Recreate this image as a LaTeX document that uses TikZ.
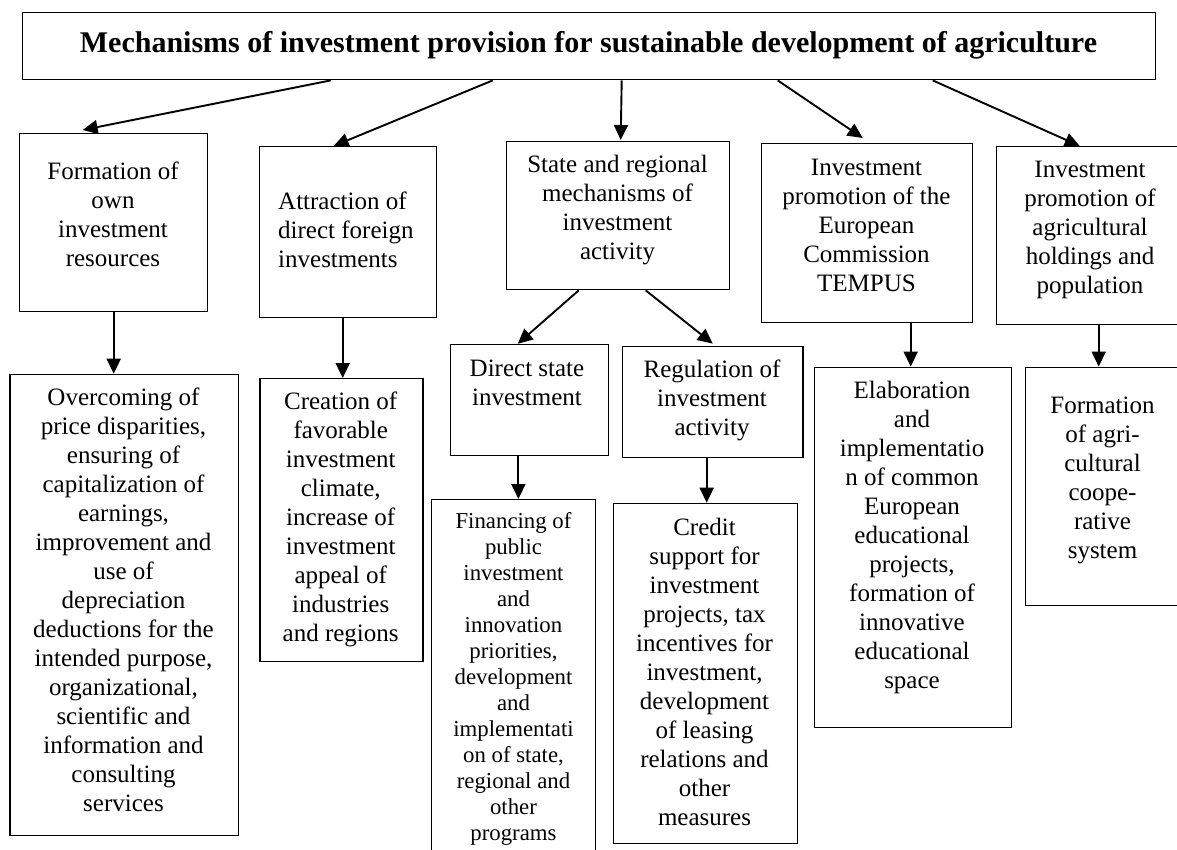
\documentclass[tikz,border=0pt]{standalone}
\usepackage{fontspec}
\setmainfont{Liberation Serif}
\usetikzlibrary{arrows.meta,calc}
\newcommand{\phx}{\vphantom{lg}}
\begin{document}
\begin{tikzpicture}[x=1pt,y=-1pt,
  box/.style={draw, line width=1.4pt, inner sep=0pt, anchor=north west},
  txt/.style={align=center, inner sep=0pt, font=\fontsize{25}{29}\selectfont},
  smalltxt/.style={align=center, inner sep=0pt, font=\fontsize{22.8}{26}\selectfont},
  arr/.style={line width=1.9pt, -{Triangle[length=15pt,width=14pt]}},
]
\useasboundingbox (0,0) rectangle (1177,850);
\fill[white] (0,0) rectangle (1177,850);
\clip (0,0) rectangle (1177,850);

% boxes
\node[box, minimum width=1133pt, minimum height=67pt] (T) at (22,12) {};
\node[box, minimum width=188pt, minimum height=178pt] (A) at (19,133) {};
\node[box, minimum width=177pt, minimum height=171pt] (B) at (259,146) {};
\node[box, minimum width=223pt, minimum height=148pt] (C) at (506,141) {};
\node[box, minimum width=211pt, minimum height=179pt] (D) at (761,143) {};
\node[box, minimum width=188pt, minimum height=178pt] (E) at (996,146) {};
\node[box, minimum width=228.4pt, minimum height=461.3pt] (A2) at (9.3,373.7) {};
\node[box, minimum width=163pt, minimum height=282.6pt] (B2) at (259.3,378) {};
\node[box, minimum width=157.7pt, minimum height=111.2pt] (C1) at (450,343.8) {};
\node[box, minimum width=180.6pt, minimum height=111.2pt] (C2) at (621.7,345.6) {};
\node[box, minimum width=164pt, minimum height=400pt] (F) at (431,499) {};
\node[box, minimum width=184pt, minimum height=340.3pt] (Cr) at (612.5,502.7) {};
\node[box, minimum width=196.7pt, minimum height=360.4pt] (D2) at (814,366.6) {};
\node[box, minimum width=155pt, minimum height=238.4pt] (E2) at (1025,366.6) {};

% texts
\node[inner sep=0pt, font=\fontsize{30}{36}\selectfont\bfseries] (tT) at (588.5,45.5)
  {Mechanisms of investment provision for sustainable development of agriculture};
\node[txt] (tA) at (113,216.5) {\phx Formation of\\own\\investment\\resources\phx};
\node[txt, align=left, anchor=west] (tB) at (278,232) {\phx Attraction of\\direct foreign\\investments\phx};
\node[txt] (tC) at (617.5,210) {\phx State and regional\\mechanisms of\\investment\\activity\phx};
\node[txt] (tD) at (866.5,227.5) {\phx Investment\\promotion of the\\European\\Commission\\TEMPUS\phx};
\node[txt] (tE) at (1090,230) {\phx Investment\\promotion of\\agricultural\\holdings and\\population\phx};
\node[txt] (tA2) at (123.5,602.5) {\phx Overcoming of\\price disparities,\\ensuring of\\capitalization of\\earnings,\\improvement and\\use of\\depreciation\\deductions for the\\intended purpose,\\organizational,\\scientific and\\information and\\consulting\\services\phx};
\node[txt] (tB2) at (340.7,519) {\phx Creation of\\favorable\\investment\\climate,\\increase of\\investment\\appeal of\\industries\\and regions\phx};
\node[txt] (tC1) at (527,385) {\phx Direct state\\investment\phx};
\node[txt] (tC2) at (712,400) {\phx Regulation of\\investment\\activity\phx};
\node[smalltxt] (tF) at (513.5,679) {\phx Financing of\\public\\investment\\and\\innovation\\priorities,\\development\\and\\implementati\\on of state,\\regional and\\other\\programs\phx};
\node[txt] (tCr) at (704.5,675) {\phx Credit\\support for\\investment\\projects, tax\\incentives for\\investment,\\development\\of leasing\\relations and\\other\\measures\phx};
\node[txt] (tD2) at (912,538) {\phx Elaboration\\and\\implementatio\\n of common\\European\\educational\\projects,\\formation of\\innovative\\educational\\space\phx};
\node[txt] (tE2) at (1102.5,480) {\phx Formation\\of agri-\\cultural\\coope-\\rative\\system\phx};

% arrows from the title
\draw[arr] ([xshift=-258.5pt]T.south) -- ([xshift=-31pt,yshift=3pt]A.north);
\draw[arr] ([xshift=-96.5pt]T.south) -- ([xshift=-14.5pt]B.north);
\draw[arr] ([xshift=32.5pt]T.south) -- ([xshift=2.5pt,yshift=1pt]C.north);
\draw[arr] ([xshift=188.5pt]T.south) -- ([xshift=-4.5pt,yshift=5pt]D.north);
\draw[arr] ([xshift=343.5pt]T.south) -- ([xshift=-11pt]E.north);

% arrows from the state box
\draw[arr] ([xshift=-39.5pt]C.south) -- ([xshift=-11.8pt]C1.north);
\draw[arr] ([xshift=27.5pt]C.south) -- ([yshift=2pt]C2.north);

% vertical arrows
\coordinate (a0) at (A.south);
\coordinate (b0) at ([xshift=-5.5pt]B.south);
\coordinate (c10) at ([xshift=-11.15pt]C1.south);
\coordinate (c20) at ([xshift=-6pt]C2.south);
\coordinate (d0) at ([xshift=43.5pt]D.south);
\coordinate (e0) at ([xshift=8pt]E.south);
\draw[arr] (a0) -- (a0 |- A2.north);
\draw[arr] (b0) -- (b0 |- B2.north);
\draw[arr] (c10) -- (c10 |- F.north);
\draw[arr] (c20) -- (c20 |- Cr.north);
\draw[arr] (d0) -- (d0 |- D2.north);
\draw[arr] (e0) -- (e0 |- E2.north);
\end{tikzpicture}
\end{document}
